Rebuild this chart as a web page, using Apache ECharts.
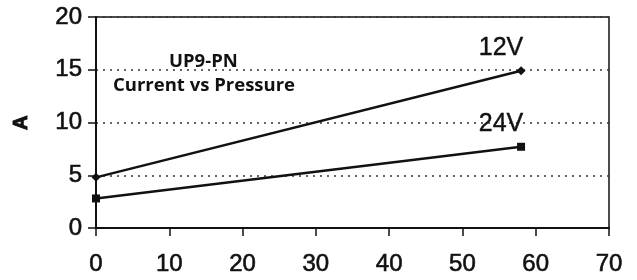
<!DOCTYPE html>
<html lang="en">
<head>
    <meta charset="UTF-8">
    <title>UP9-PN Current vs Pressure</title>
    <style type="text/css">
        *{
            margin: 0;
            padding: 0;
        }
        #main{
            width: 637px;
            height: 280px;
            background: #ffffff;
        }
    </style>
</head>
<body>
    <div id="main"></div>
    <script src="https://cdn.jsdelivr.net/npm/echarts@6/dist/echarts.min.js"></script>
    <script type="text/javascript">
        // data
        var pressure = [0, 58];
        var amps12V = [4.8, 14.9];
        var amps24V = [2.8, 7.7];
        var xTicks = [0, 10, 20, 30, 40, 50, 60, 70];
        var yTicks = [0, 5, 10, 15, 20];

        var ink = '#111111';
        var myChart = echarts.init(document.getElementById('main'));

        function pairs(xs, ys) {
            return xs.map(function (x, i) { return [x, ys[i]]; });
        }

        // label only the last point of a line
        function endLabel(name) {
            return {
                show: true,
                position: 'top',
                distance: 6,
                offset: [-20, 0],
                color: ink,
                fontFamily: 'Liberation Sans',
                fontSize: 25,
                textBorderColor: ink,
                textBorderWidth: 0.4,
                formatter: function (p) {
                    return p.dataIndex === pressure.length - 1 ? name : '';
                }
            };
        }

        var tickText = {
            color: ink,
            fontFamily: 'Liberation Sans',
            fontSize: 24,
            textBorderColor: ink,
            textBorderWidth: 0.6
        };

        var option = {
            animation: false,
            grid: {
                left: 96,
                right: 28,
                top: 17,
                bottom: 52,
                show: true,
                borderColor: ink,
                borderWidth: 1.5,
                backgroundColor: 'transparent'
            },
            xAxis: {
                type: 'value',
                min: xTicks[0],
                max: xTicks[xTicks.length - 1],
                interval: 10,
                axisLine: { lineStyle: { color: ink, width: 2 } },
                axisTick: { show: true, length: 8, lineStyle: { color: ink, width: 1.5 } },
                splitLine: { show: false },
                axisLabel: Object.assign({ margin: 24 }, tickText)
            },
            yAxis: {
                type: 'value',
                min: yTicks[0],
                max: yTicks[yTicks.length - 1],
                interval: 5,
                axisLine: { show: true, lineStyle: { color: ink, width: 2 } },
                axisTick: { show: true, length: 8, lineStyle: { color: ink, width: 1.5 } },
                splitLine: {
                    show: true,
                    lineStyle: { color: '#333333', type: [2, 5], width: 1.5 }
                },
                axisLabel: Object.assign({ margin: 14 }, tickText)
            },
            series: [
                {
                    name: '12V',
                    type: 'line',
                    data: pairs(pressure, amps12V),
                    symbol: 'diamond',
                    symbolSize: 9,
                    lineStyle: { color: ink, width: 2.5 },
                    itemStyle: { color: ink },
                    label: endLabel('12V')
                },
                {
                    name: '24V',
                    type: 'line',
                    data: pairs(pressure, amps24V),
                    symbol: 'rect',
                    symbolSize: 8,
                    lineStyle: { color: ink, width: 2.5 },
                    itemStyle: { color: ink },
                    label: endLabel('24V')
                }
            ],
            graphic: [
                {
                    // y axis name, reading bottom to top
                    type: 'text',
                    x: 11,
                    y: 130,
                    rotation: Math.PI / 2,
                    style: {
                        text: 'A',
                        fill: ink,
                        stroke: ink,
                        lineWidth: 1,
                        font: 'bold 20px "Liberation Sans"',
                        textAlign: 'left',
                        textVerticalAlign: 'top'
                    }
                },
                {
                    type: 'text',
                    left: 169,
                    top: 52,
                    style: {
                        text: 'UP9-PN',
                        fill: ink,
                        font: 'bold 18.5px "Open Sans"'
                    }
                },
                {
                    type: 'text',
                    left: 113,
                    top: 76,
                    style: {
                        text: 'Current vs Pressure',
                        fill: ink,
                        font: 'bold 18.5px "Open Sans"'
                    }
                }
            ]
        };

        myChart.setOption(option);
    </script>
</body>
</html>
